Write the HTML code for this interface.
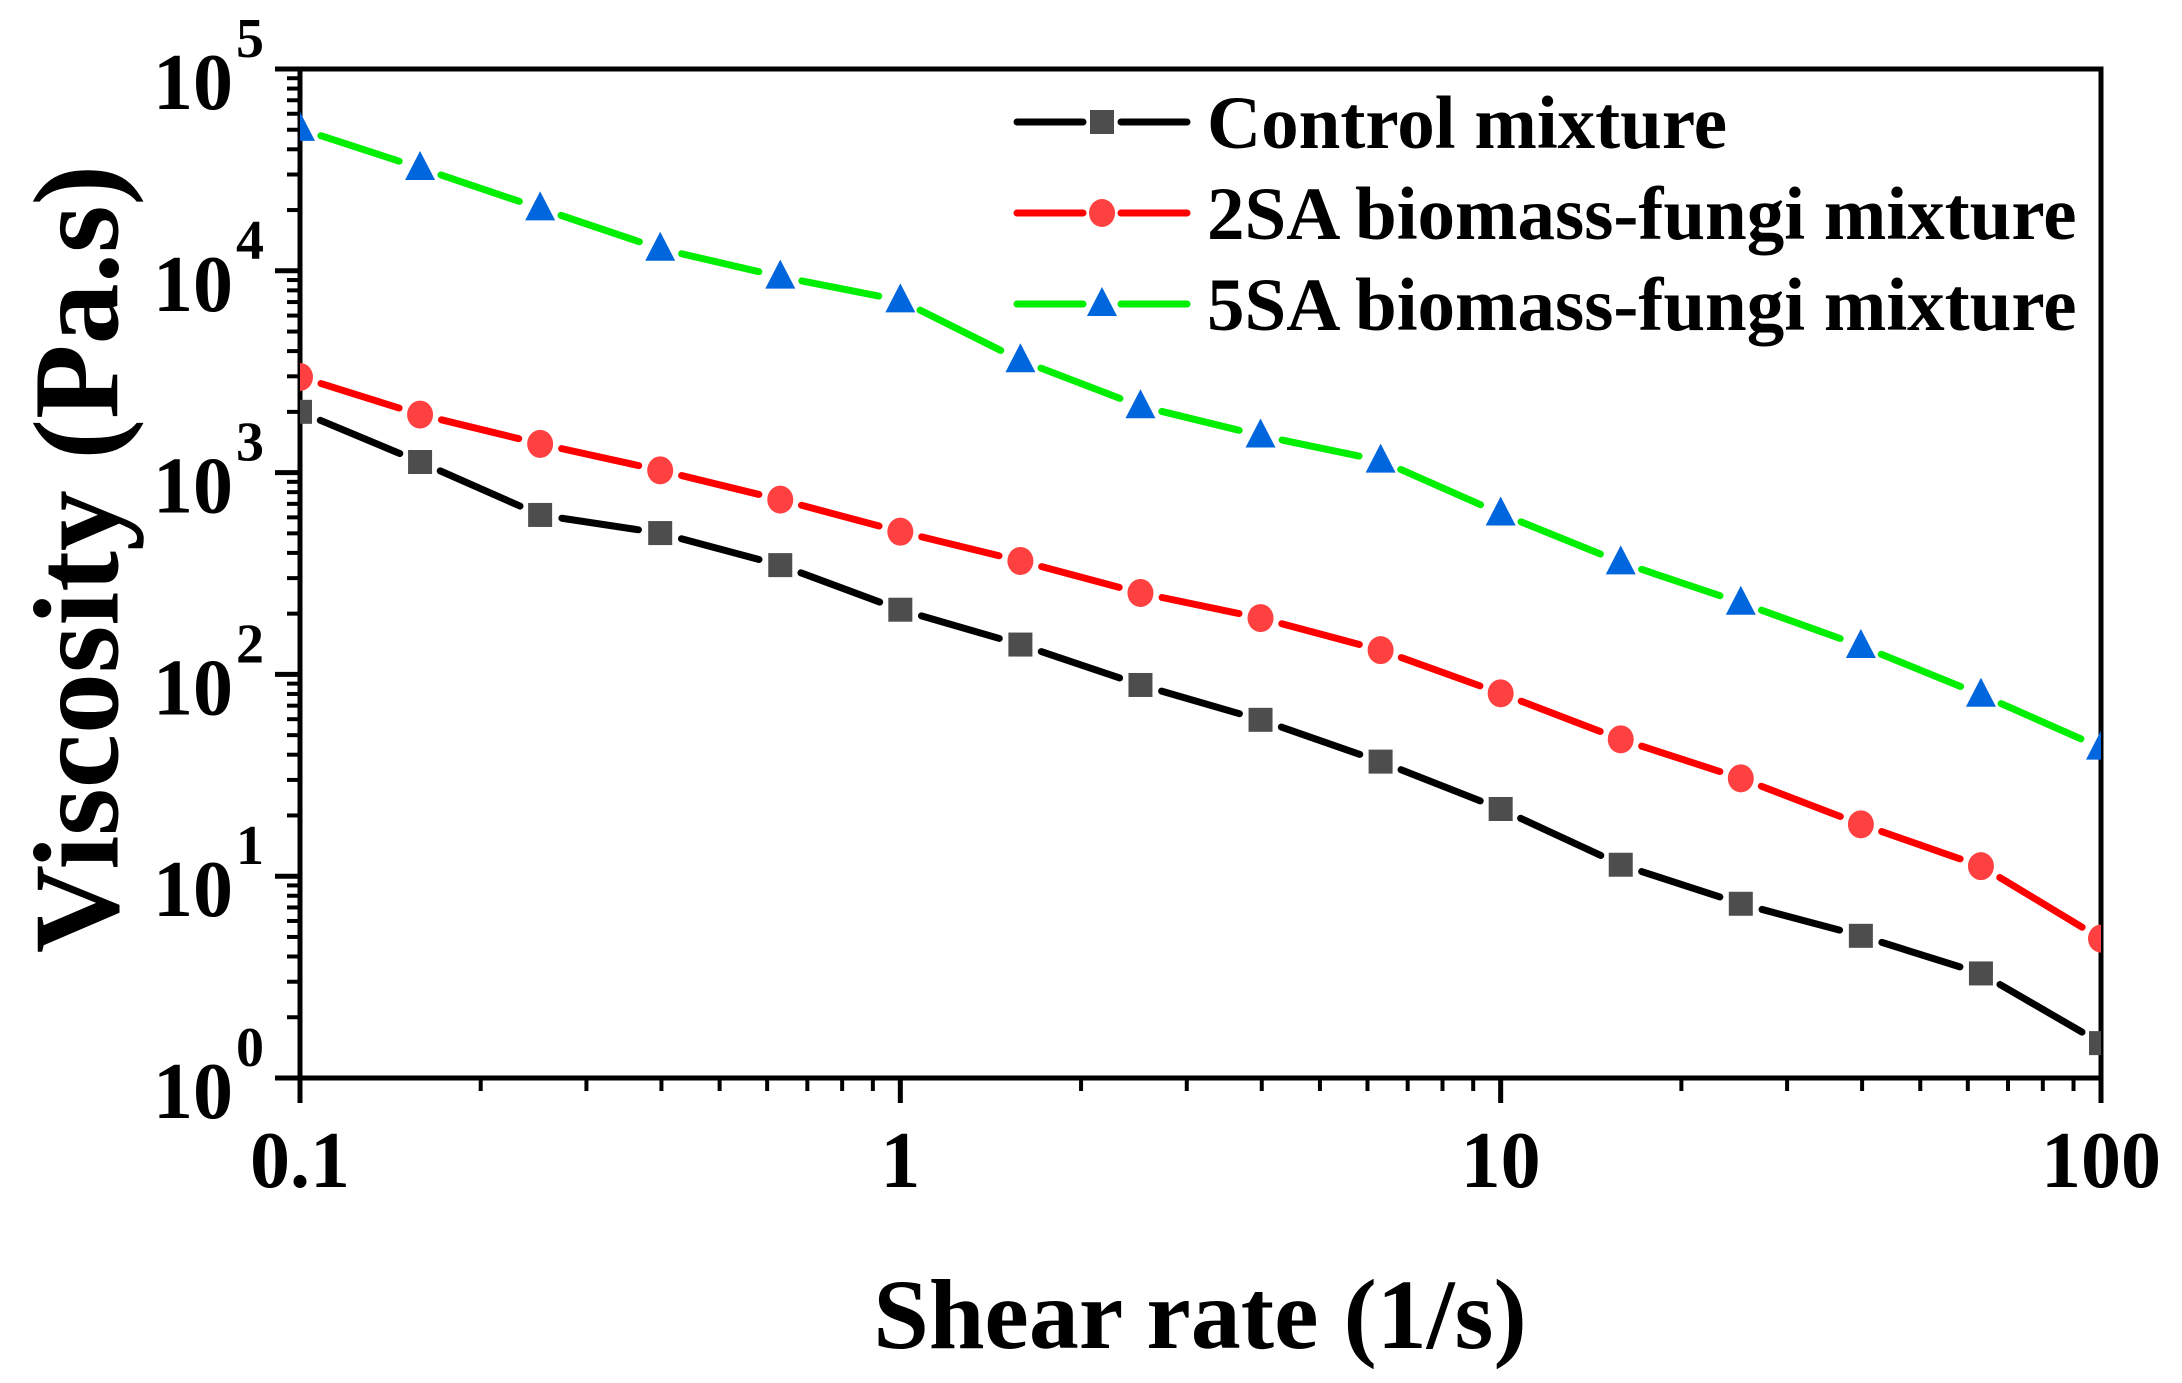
<!DOCTYPE html>
<html><head><meta charset="utf-8"><style>
html,body{margin:0;padding:0;background:#fff;}
svg{display:block;font-family:"Liberation Serif",serif;font-weight:bold;}
</style></head><body>
<svg id="s" width="2182" height="1383" viewBox="0 0 2182 1383" xmlns="http://www.w3.org/2000/svg">
<rect width="2182" height="1383" fill="#fff"/>
<g id="g"></g>
<text x="77" y="559" font-size="122" text-anchor="middle" dominant-baseline="central" transform="rotate(-90 77 559)">Viscosity (Pa.s)</text>
<text x="1200" y="1348" font-size="100" text-anchor="middle">Shear rate (1/s)</text>
</svg>
<script>
const L=300,R=2101,T=69,B=1078,dx=(R-L)/3,dy=(B-T)/5;
let h='';
const X=k=>L+k/5*dx;
const Yd=yd=>T+(yd-49)*1.3936;
h+=`<rect x="${L}" y="${T}" width="${R-L}" height="${B-T}" fill="none" stroke="#000" stroke-width="5"/>`;
for(let d=0;d<=5;d++){const y=B-d*dy;h+=`<line x1="${L-25}" y1="${y}" x2="${L}" y2="${y}" stroke="#000" stroke-width="5"/>`;
h+=`<text x="233" y="${y+40}" font-size="80" text-anchor="end">10</text><text x="236" y="${y-12}" font-size="56">${d}</text>`;
if(d<5)for(let m=2;m<=9;m++){const yy=y-Math.log10(m)*dy;h+=`<line x1="${L-13}" y1="${yy}" x2="${L}" y2="${yy}" stroke="#000" stroke-width="4"/>`;}}
const xl=['0.1','1','10','100'];
for(let d=0;d<=3;d++){const x=L+d*dx;h+=`<line x1="${x}" y1="${B}" x2="${x}" y2="${B+25}" stroke="#000" stroke-width="5"/>`;
h+=`<text x="${x}" y="1187" font-size="80" text-anchor="middle">${xl[d]}</text>`;
if(d<3)for(let m=2;m<=9;m++){const xx=x+Math.log10(m)*dx;h+=`<line x1="${xx}" y1="${B}" x2="${xx}" y2="${B+13}" stroke="#000" stroke-width="4"/>`;}}
const S=[
{c:'#000',m:'#4d4d4d',t:'sq',y:[295,331,369,382,405,437,462,491,516,546,580,620,648,671,698,748]},
{c:'#ff0000',m:'#ff4040',t:'ci',y:[270,297,318,337,358,381,402,425,443,466,497,530,558,591,621,673]},
{c:'#00ee00',m:'#0066dd',t:'tr',y:[92,120,149,178,198,215,258,291,312,330,368,403,432,463,498,536]}];
function mk(t,x,y,col){
 if(t=='sq')return `<rect x="${x-12}" y="${y-12}" width="24" height="24" fill="${col}"/>`;
 if(t=='ci')return `<ellipse cx="${x}" cy="${y}" rx="13" ry="14" fill="${col}"/>`;
 return `<polygon points="${x},${y-17} ${x-15},${y+12} ${x+15},${y+12}" fill="${col}"/>`;
}
h+=`<clipPath id="c"><rect x="${L}" y="${T}" width="${R-L}" height="${B-T}"/></clipPath>`+'<g clip-path="url(#c)">';
S.forEach(s=>{
 const p=s.y.map((v,k)=>[X(k),Yd(v)]);
 for(let i=0;i<p.length-1;i++){const [x1,y1]=p[i],[x2,y2]=p[i+1];const len=Math.hypot(x2-x1,y2-y1),g=22;
  const ux=(x2-x1)/len,uy=(y2-y1)/len;
  h+=`<line x1="${x1+ux*g}" y1="${y1+uy*g}" x2="${x2-ux*g}" y2="${y2-uy*g}" stroke="${s.c}" stroke-width="7" stroke-linecap="round"/>`;}
 p.forEach(q=>h+=mk(s.t,q[0],q[1],s.m));
});
h+='</g>';
const names=['Control mixture','2SA biomass-fungi mixture','5SA biomass-fungi mixture'];
S.forEach((s,i)=>{const y=122+i*91;
 h+=`<line x1="1017" y1="${y}" x2="1083" y2="${y}" stroke="${s.c}" stroke-width="7" stroke-linecap="round"/><line x1="1121" y1="${y}" x2="1187" y2="${y}" stroke="${s.c}" stroke-width="7" stroke-linecap="round"/>`;
 h+=mk(s.t,1102,y,s.m);
 h+=`<text x="1207" y="${y+26}" font-size="75">${names[i]}</text>`;});
document.getElementById('g').innerHTML=h;
</script>
</body></html>
